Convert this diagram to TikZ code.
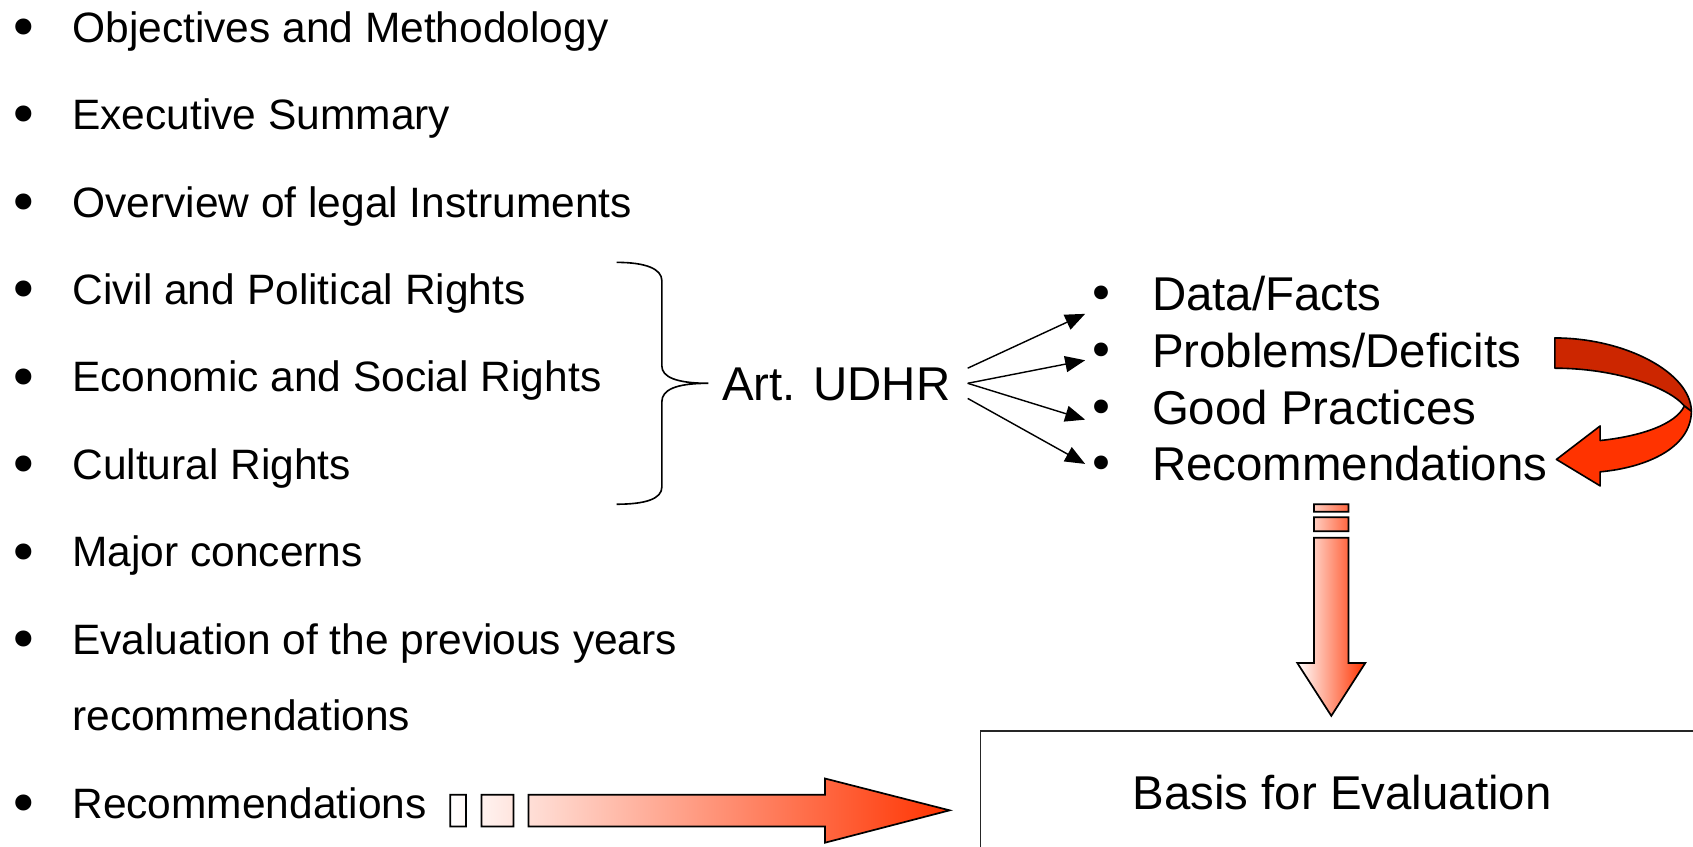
\documentclass[tikz,border=0pt]{standalone}
\usepackage{fontspec}
\setmainfont{Liberation Sans}
\newfontfamily\bulletfont{DejaVu Sans}
\usetikzlibrary{arrows.meta}
\definecolor{ribbondark}{RGB}{204,38,0}
\definecolor{ribbonlight}{RGB}{255,51,0}
\definecolor{blockred}{RGB}{255,51,0}

\begin{document}
\begin{tikzpicture}[
    x=0.02cm, y=-0.02cm,
    every node/.style={
        inner sep=0pt,
        outer sep=0pt,
    },
    listfont/.style={
        font=\fontsize{22.4}{27}\selectfont,
    },
    bigfont/.style={
        font=\fontsize{25}{30}\selectfont,
    },
    bullettext/.style={
        #1,
        anchor=base,
    },
    itemtext/.style={
        #1,
        anchor=base west,
    },
    fan/.style={
        line width=.75pt,
        -{Triangle[length=10.5pt,width=8.5pt]},
    },
    brace/.style={
        line width=.85pt,
    },
    blockarrow/.style={
        draw=black,
        line width=.9pt,
        left color=white,
        right color=blockred,
    },
    ribbon/.style={
        fill=#1,
        draw=black,
        line width=.85pt,
        line join=round,
    },
    basisbox/.style={
        draw=black!85,
        line width=.9pt,
        minimum width=13.4cm,
        minimum height=2.28cm,
    },
]
    \useasboundingbox (0,0) rectangle (1568,784);
    \clip (0,0) rectangle (1568,784);

    % ~~~ list macros ~~~~~~~~~~~~~~~~~~~~~~~~~~~~~~~~~~~~~~~~~~~~~~
    \newcommand\leftitem[3]{\node[bullettext=listfont] (#1b) at (22,#2+5) {\scalebox{1.3}{\bulletfont •}};
        \node[itemtext=listfont] (#1) at (67,#2) {#3}}
    \newcommand\rightitem[3]{\node[bullettext=bigfont] (#1b) at (1020,#2) {\bulletfont •};
        \node[itemtext=bigfont] (#1) at (1067,#2) {#3}}

    % ~~~ left list ~~~~~~~~~~~~~~~~~~~~~~~~~~~~~~~~~~~~~~~~~~~~~~~~
    \leftitem{obj}{39}{Objectives and Methodology};
    \leftitem{exec}{120}{Executive Summary};
    \leftitem{legal}{201}{Overview of legal Instruments};
    \leftitem{civil}{282}{Civil and Political Rights};
    \leftitem{econ}{363}{Economic and Social Rights};
    \leftitem{cult}{444}{Cultural Rights};
    \leftitem{major}{525}{Major concerns};
    \leftitem{evalprev}{606}{Evaluation of the previous years};
    \node[itemtext=listfont] (evalprevb) at (67,677) {recommendations};
    \leftitem{recleft}{758}{Recommendations};

    % ~~~ brace and article ~~~~~~~~~~~~~~~~~~~~~~~~~~~~~~~~~~~~~~~~~
    \draw[brace] (571,243) .. controls (598,243) and (613,249) .. (613,260)
        -- (613,339) .. controls (613,349) and (626,355) .. (656,355)
        .. controls (626,355) and (613,361) .. (613,372)
        -- (613,451) .. controls (613,462) and (598,467) .. (571,467);
    \node[bigfont] (udhr) at (774.5,356) {Art. UDHR};

    % ~~~ right list ~~~~~~~~~~~~~~~~~~~~~~~~~~~~~~~~~~~~~~~~~~~~~~~
    \rightitem{facts}{288}{Data/Facts};
    \rightitem{probs}{340}{Problems/Deficits};
    \rightitem{good}{393}{Good Practices};
    \rightitem{recright}{445}{Recommendations};

    \draw[fan] ([shift={(16,-15)}]udhr.east) -- ([shift={(-15,14)}]factsb.center);
    \draw[fan] ([shift={(16,-1)}]udhr.east)  -- ([shift={(-15,5)}]probsb.center);
    \draw[fan] ([shift={(16,-1)}]udhr.east)  -- ([shift={(-15,7)}]goodb.center);
    \draw[fan] ([shift={(16,13)}]udhr.east)  -- ([shift={(-15,-4)}]recrightb.center);

    % ~~~ curved ribbon arrow ~~~~~~~~~~~~~~~~~~~~~~~~~~~~~~~~~~~~~~~
    \path[ribbon=ribbondark] (1440,313) .. controls (1505,313) and (1566,345) .. (1566.5,381)
        -- (1560,376) .. controls (1545,358) and (1495,341) .. (1440,341) -- cycle;
    \path[ribbon=ribbonlight] (1566.5,381) .. controls (1566,415) and (1525,433) .. (1482,437)
        -- (1482,450) -- (1441.5,425.5) -- (1482,394.5) -- (1482,408)
        .. controls (1520,404) and (1552,393) .. (1560,376) -- cycle;

    % ~~~ block arrows ~~~~~~~~~~~~~~~~~~~~~~~~~~~~~~~~~~~~~~~~~~~~~~
    \shadedraw[blockarrow] (1217,467) rectangle (1249,474)
        (1217,479) rectangle (1249,492)
        (1217,498) -- (1249,498) -- (1249,614) -- (1264.5,614) -- (1233,663)
        -- (1201.5,614) -- (1217,614) -- cycle;
    \shadedraw[blockarrow] (417,736) rectangle (431.5,765.5)
        (446,736) rectangle (475.5,765.5)
        (489.5,736) -- (764,736) -- (764,721) -- (879.5,750.5) -- (764,780.5)
        -- (764,765.5) -- (489.5,765.5) -- cycle;

    % ~~~ basis box ~~~~~~~~~~~~~~~~~~~~~~~~~~~~~~~~~~~~~~~~~~~~~~~~
    \node[basisbox,bigfont] (basis) at (1243,734) {Basis for Evaluation};
\end{tikzpicture}
\end{document}
